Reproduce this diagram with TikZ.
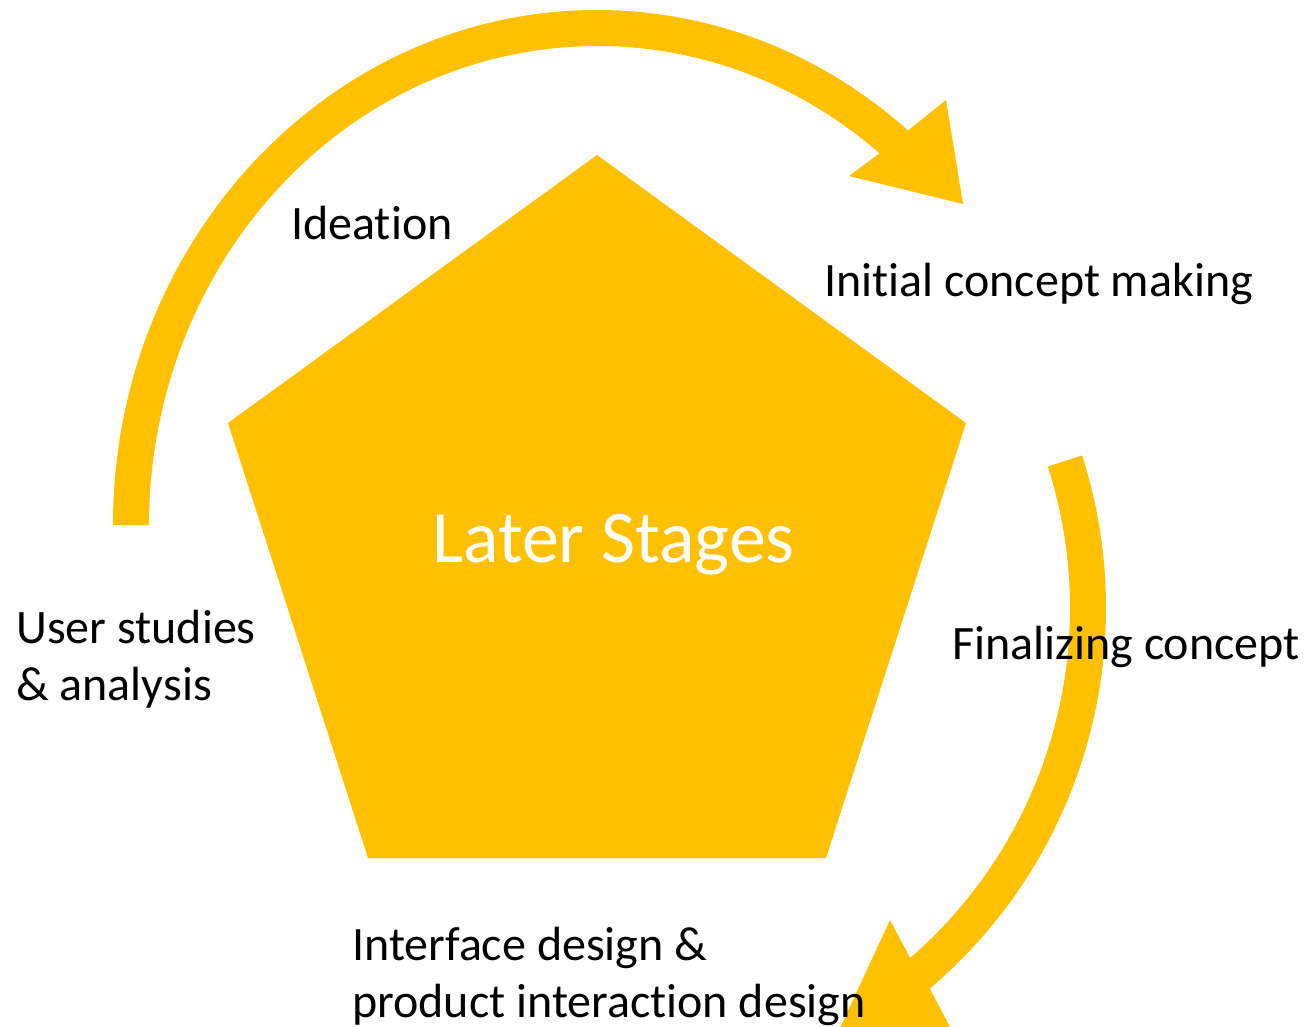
\documentclass[tikz,border=0pt]{standalone}
\usepackage{fontspec}
\setmainfont{Carlito}[Ligatures=NoCommon]
\definecolor{gold}{HTML}{FFC000}
\begin{document}
\begin{tikzpicture}[x=1pt,y=-1pt,
  arrowshape/.style={fill=gold},
  lbl/.style={font=\fontsize{48}{57}\selectfont, inner sep=0pt, anchor=base west, align=left, text=black},
  bigl/.style={font=\fontsize{74}{80}\selectfont, inner sep=0pt, anchor=base west, text=white}]
\useasboundingbox (0,0) rectangle (1307,1026);
\begin{scope}
\clip (0,0) rectangle (1307,1026);
% pentagon
\coordinate (pT) at (597,155);
\coordinate (pR) at (966,423);
\coordinate (pBR) at (826,858);
\coordinate (pBL) at (368,858);
\coordinate (pL) at (228,423);
\fill[gold] (pT) -- (pR) -- (pBR) -- (pBL) -- (pL) -- cycle;
% upper arrow
\coordinate (uc) at (597,525);
\coordinate (uh1) at (946,100);
\coordinate (uh2) at (963,204);
\coordinate (uh3) at (849,176);
\path[arrowshape] ([shift={(180:484 and 515)}]uc)
  arc[start angle=180, end angle=310, x radius=484, y radius=515]
  -- (uh1) -- (uh2) -- (uh3)
  -- ([shift={(309.1:448 and 479)}]uc)
  arc[start angle=309.1, end angle=180, x radius=448, y radius=479] -- cycle;
% lower arrow
\coordinate (lc) at (607,608);
\coordinate (lh1) at (890,920);
\coordinate (lh2) at (950,1027);
\coordinate (lh3) at (833,1043);
\path[arrowshape] ([shift={(-17.8:499)}]lc)
  arc[start angle=-17.8, end angle=49.7, radius=499]
  -- (lh2) -- (lh3) -- (lh1)
  -- ([shift={(49.1:463)}]lc)
  arc[start angle=49.1, end angle=-17.8, radius=463] -- cycle;
\end{scope}
% labels
\node[bigl] (later) at (432,562) {Later Stages};
\node[lbl] (ideation) at (291,239) {Ideation};
\node[lbl] (initial) at (824,296) {Initial concept making};
\node[lbl] (final) at (952,659) {Finalizing concept};
\node[lbl] (user) at (16,700) {User studies\\\& analysis};
\node[lbl] (iface) at (352,1017) {Interface design \&\\product interaction design};
\end{tikzpicture}
\end{document}
